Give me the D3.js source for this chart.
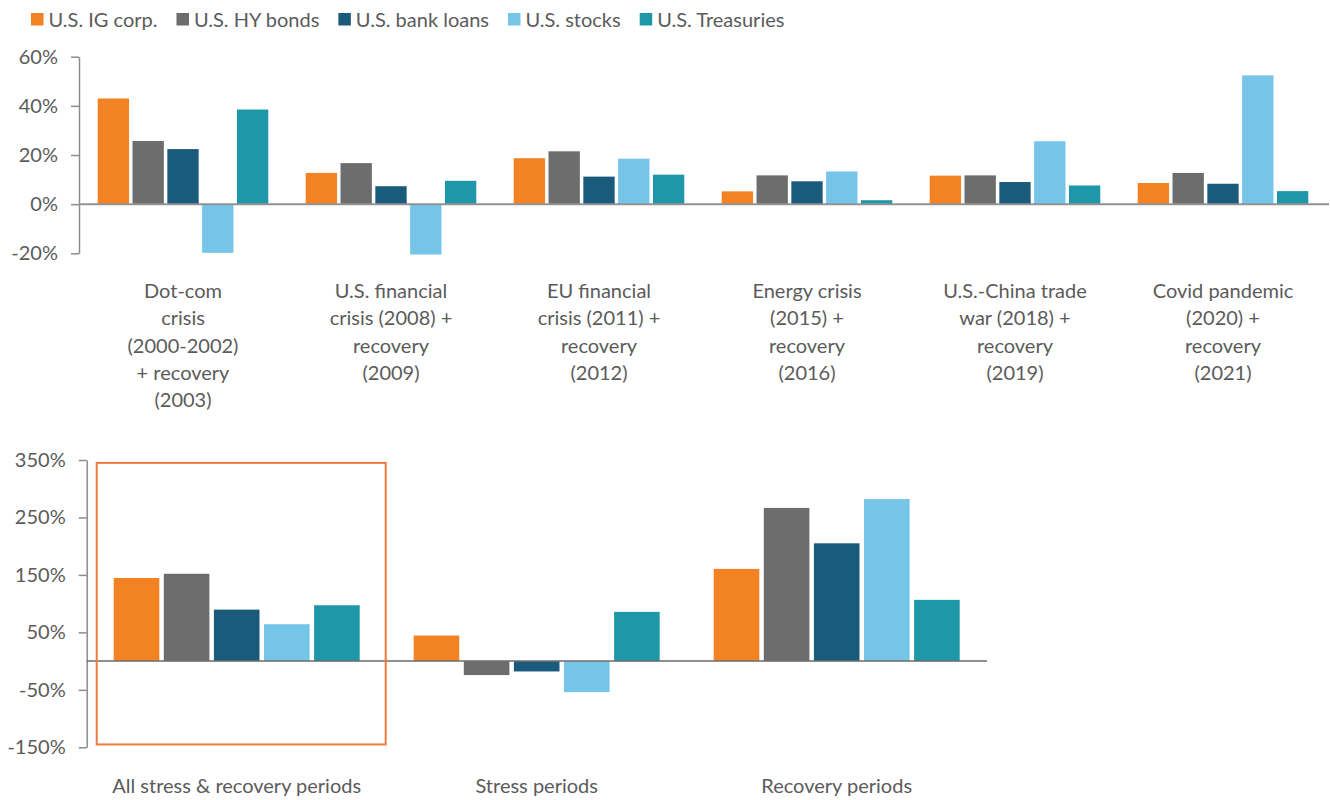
<!DOCTYPE html>
<html lang="en">
<head>
    <meta charset="UTF-8">
    <title>Stress and recovery returns</title>
    <style>
        body { margin: 0; background: #fff; }
        svg text { font-family: Lato, "Open Sans", sans-serif; fill: #5b5b5b; }
    </style>
</head>
<body>
    <svg width="1330" height="800"></svg>
    <script src="https://d3js.org/d3.v7.min.js"></script>
    <script>
        // series (legend order)
        var series = ["U.S. IG corp.", "U.S. HY bonds", "U.S. bank loans", "U.S. stocks", "U.S. Treasuries"];
        var colors = ["#F28222", "#6D6D6D", "#1A5A7B", "#74C5E8", "#1E98A8"];

        // top panel: stress periods + recovery, % total return
        var periods = [
            ["Dot-com", "crisis", "(2000-2002)", "+ recovery", "(2003)"],
            ["U.S. financial", "crisis (2008) +", "recovery", "(2009)"],
            ["EU financial", "crisis (2011) +", "recovery", "(2012)"],
            ["Energy crisis", "(2015) +", "recovery", "(2016)"],
            ["U.S.-China trade", "war (2018) +", "recovery", "(2019)"],
            ["Covid pandemic", "(2020) +", "recovery", "(2021)"]
        ];
        var igCorp     = [43.0, 12.7, 18.7, 5.2, 11.6, 8.6];
        var hyBonds    = [25.7, 16.7, 21.5, 11.7, 11.7, 12.7];
        var bankLoans  = [22.4, 7.3, 11.2, 9.3, 9.0, 8.3];
        var stocks     = [-19.8, -20.5, 18.5, 13.3, 25.6, 52.4];
        var treasuries = [38.5, 9.5, 12.0, 1.6, 7.6, 5.3];
        var topTicks = [-20, 0, 20, 40, 60];

        // bottom panel: cumulative, % total return
        var totals = ["All stress & recovery periods", "Stress periods", "Recovery periods"];
        var totIg    = [144.7, 44.5, 160.5];
        var totHy    = [152.0, -24.3, 266.6];
        var totLoans = [89.6, -18.0, 205.0];
        var totStock = [64.2, -54.0, 282.0];
        var totTreas = [97.2, 85.7, 106.6];
        var bottomTicks = [-150, -50, 50, 150, 250, 350];

        var topSeries = [igCorp, hyBonds, bankLoans, stocks, treasuries];
        var bottomSeries = [totIg, totHy, totLoans, totStock, totTreas];

        var svg = d3.select("svg");
        var axisColor = "#8c8c8c";

        // legend
        var legend = svg.append("g").attr("transform", "translate(31,13)");
        var lx = 0;
        series.forEach(function(s, i) {
            var item = legend.append("g").attr("transform", "translate(" + lx + ",0)");
            item.append("rect").attr("width", 12.5).attr("height", 12.5).attr("fill", colors[i]);
            var t = item.append("text").attr("x", 17.5).attr("y", 6.5).attr("dy", "0.36em")
                .style("font-size", "20px").text(s);
            lx += 17.5 + t.node().getComputedTextLength() + 19;
        });

        function panel(opts) {
            var g = svg.append("g");
            var x = d3.scaleBand().domain(d3.range(opts.cats.length))
                .range([opts.left, opts.right]).paddingInner(0.18).paddingOuter(0.09);
            var xs = d3.scaleBand().domain(d3.range(series.length))
                .range([0, x.bandwidth()]).paddingInner(opts.barPad).paddingOuter(0);
            var y = d3.scaleLinear().domain(opts.domain).range([opts.bottom, opts.top]);

            // y axis
            var ax = g.append("g").attr("transform", "translate(" + opts.left + ",0)")
                .call(d3.axisLeft(y).tickValues(opts.ticks).tickSize(8).tickSizeOuter(0).tickPadding(13)
                    .tickFormat(function(d) { return d + "%"; }));
            ax.select(".domain").attr("stroke", axisColor).attr("stroke-width", 1.5);
            ax.selectAll(".tick line").attr("stroke", axisColor).attr("stroke-width", 1.5);
            ax.selectAll(".tick text").attr("fill", "#5b5b5b")
                .style("font-size", "20px").style("font-family", "Lato, sans-serif");

            // bars
            opts.values.forEach(function(vals, si) {
                g.selectAll(".bar" + si).data(vals).enter().append("rect")
                    .attr("x", function(d, i) { return x(i) + xs(si); })
                    .attr("width", xs.bandwidth())
                    .attr("y", function(d) { return y(Math.max(0, d)); })
                    .attr("height", function(d) { return Math.abs(y(d) - y(0)); })
                    .attr("fill", colors[si]);
            });

            // zero line
            g.append("line").attr("x1", opts.left).attr("x2", opts.zeroEnd)
                .attr("y1", y(0)).attr("y2", y(0))
                .attr("stroke", opts.zeroColor).attr("stroke-width", opts.zeroWidth);

            // category labels
            opts.cats.forEach(function(c, i) {
                var lines = Array.isArray(c) ? c : [c];
                var t = g.append("text").attr("text-anchor", "middle")
                    .attr("y", opts.labelY).style("font-size", "20px");
                lines.forEach(function(l, k) {
                    t.append("tspan").attr("x", x(i) + x.bandwidth() / 2)
                        .attr("dy", k === 0 ? 0 : 27.3).text(l);
                });
            });
            return { x: x, y: y, g: g };
        }

        panel({
            cats: periods, values: topSeries, domain: [-20, 60], ticks: topTicks,
            left: 79, right: 1327, top: 56.7, bottom: 253.3, barPad: 0.1,
            zeroEnd: 1329, zeroColor: "#929292", zeroWidth: 2, labelY: 298
        });

        var bp = panel({
            cats: totals, values: bottomSeries, domain: [-150, 350], ticks: bottomTicks,
            left: 86.7, right: 986.7, top: 460, bottom: 747.3, barPad: 0.09,
            zeroEnd: 987, zeroColor: "#6b6b6b", zeroWidth: 1.5, labelY: 793
        });

        // highlight box around the first group
        var x0 = bp.x.range()[0] + 10, x1 = bp.x.range()[0] + bp.x.step() - 1;
        bp.g.append("rect")
            .attr("x", x0).attr("y", bp.y(345))
            .attr("width", x1 - x0).attr("height", bp.y(-145) - bp.y(345))
            .attr("fill", "none").attr("stroke", "#EE7A3C").attr("stroke-width", 2);
    </script>
</body>
</html>
